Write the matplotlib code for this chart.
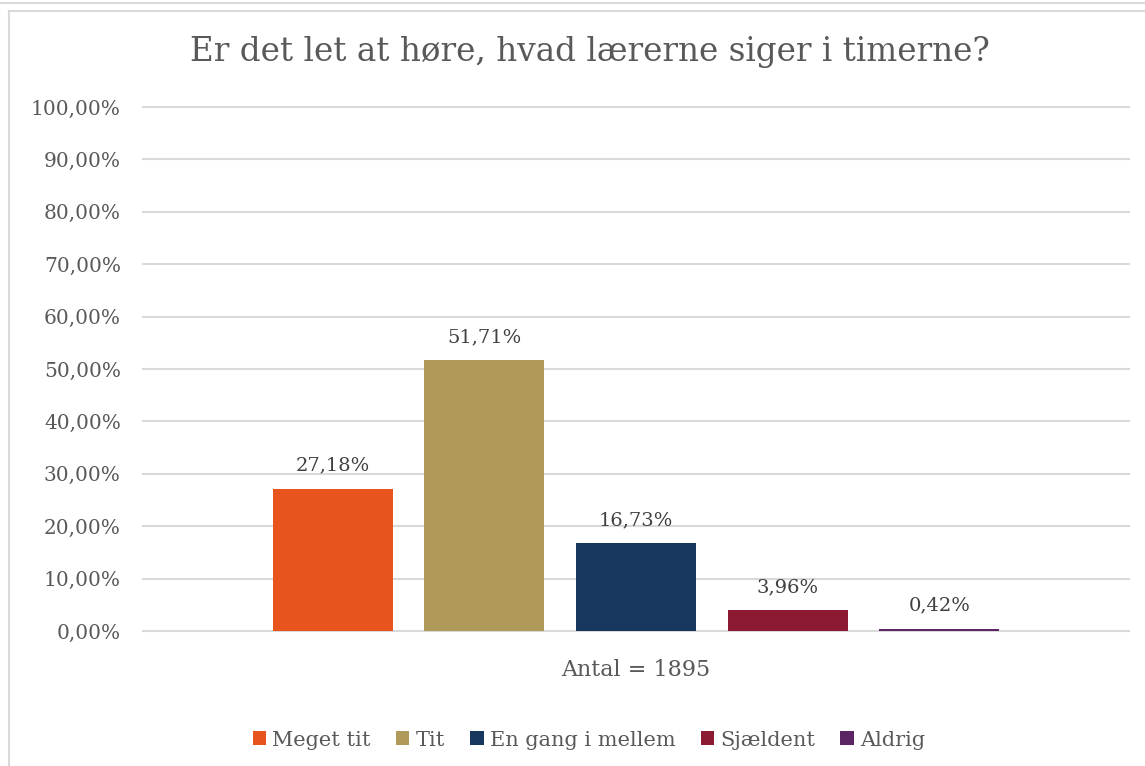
import numpy as np
import matplotlib.pyplot as plt
from matplotlib.lines import Line2D
from matplotlib.patches import Patch

title = "Er det let at høre, hvad lærerne siger i timerne?"
categories = ["Meget tit", "Tit", "En gang i mellem", "Sjældent", "Aldrig"]
values = [27.18, 51.71, 16.73, 3.96, 0.42]
colors = ["#E8541E", "#B09A5A", "#17375E", "#8B1A32", "#5B2463"]
xlabel = "Antal = 1895"

plt.rcParams['font.family'] = ['DejaVu Serif']
text_color = "#595959"

fig = plt.figure(figsize=(11.45, 7.66), dpi=100)
ax = fig.add_axes([143/1145, 1 - 631/766, (1129-143)/1145, (631-107)/766])

x = np.arange(len(values))
bars = ax.bar(x, values, width=0.79, color=colors, zorder=3)
for xi, v in zip(x, values):
    ax.text(xi, v + 2.7, ("%.2f" % v).replace(".", ",") + "%", ha="center", va="bottom",
            fontsize=14, color="#404040")

ax.set_xlim(-1.25, 5.25)
ax.set_ylim(0, 100)
ax.set_yticks(np.arange(0, 101, 10))
ax.set_yticklabels([("%.2f" % t).replace(".", ",") + "%" for t in np.arange(0, 101, 10)])
ax.tick_params(axis="y", length=0, pad=16, labelsize=14.5, labelcolor=text_color)
ax.set_xticks([])
ax.grid(axis="y", color="#D9D9D9", linewidth=1.5, zorder=0)
for gl in ax.get_ygridlines():
    gl.set_clip_on(False)
for s in ax.spines.values():
    s.set_visible(False)

fig.text(636/1145, 1 - 670/766, xlabel, ha="center", va="center", fontsize=16, color=text_color)
fig.text(590/1145, 1 - 52/766, title, ha="center", va="center", fontsize=23.5, color=text_color)

handles = [Patch(facecolor=c) for c in colors]
fig.legend(handles, categories, loc="center", bbox_to_anchor=(589/1145, 1 - 740/766), ncol=5,
           frameon=False, fontsize=15, labelcolor=text_color, handlelength=0.65, handleheight=0.65,
           handletextpad=0.3, columnspacing=1.2)

# chart border
fig.add_artist(Line2D([9/1145, 9/1145], [0, 1 - 11/766], color="#D9D9D9", lw=1.5))
fig.add_artist(Line2D([9/1145, 1], [1 - 11/766, 1 - 11/766], color="#D9D9D9", lw=1.5))
fig.add_artist(Line2D([0, 1], [1 - 3/766, 1 - 3/766], color="#D9D9D9", lw=1.5))

fig.savefig("out.png", dpi=100)
